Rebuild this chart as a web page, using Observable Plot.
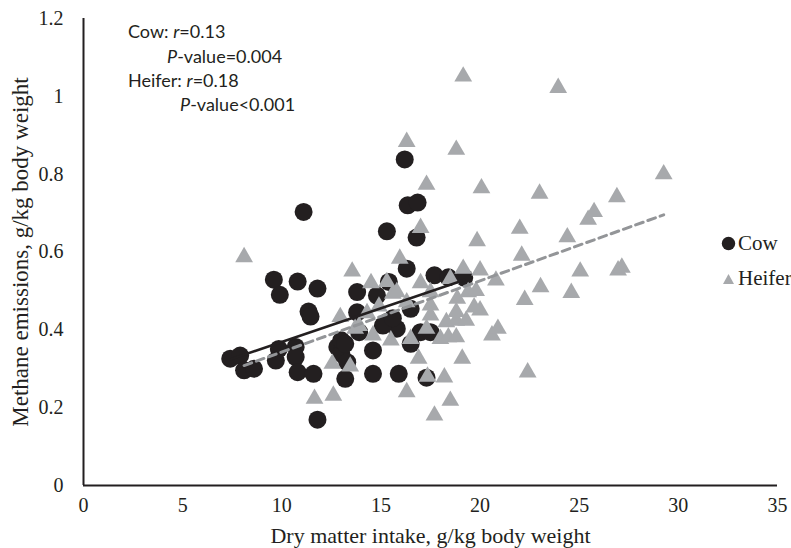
<!DOCTYPE html>
<html>
<head>
<meta charset="utf-8">
<script src="https://cdn.jsdelivr.net/npm/d3@7"></script>
<script src="https://cdn.jsdelivr.net/npm/@observablehq/plot@0.6"></script>
<style>
  html, body { margin: 0; padding: 0; background: #fff; }
  #wrap { position: relative; width: 791px; height: 548px; overflow: hidden; background: #fff; }
  .ann { position: absolute; font-family: Lato, "Open Sans", sans-serif; font-size: 18px; color: #231f20; white-space: nowrap; line-height: 20px; }
  .leg { position: absolute; font-family: "Liberation Serif", serif; font-size: 21px; color: #231f20; white-space: nowrap; line-height: 24px; display: flex; align-items: center; }
</style>
</head>
<body>
<div id="wrap">
  <div id="chart"></div>
  <div class="ann" style="left:128px; top:21px;">Cow: <i>r</i>=0.13</div>
  <div class="ann" style="left:167px; top:46px;"><i>P</i>-value=0.004</div>
  <div class="ann" style="left:128px; top:70px;">Heifer: <i>r</i>=0.18</div>
  <div class="ann" style="left:180px; top:94px;"><i>P</i>-value&lt;0.001</div>
  <div class="leg" style="left:721px; top:231px;"><svg width="15" height="15" style="margin-right:2px"><circle cx="7.5" cy="7.5" r="6.7" fill="#231f20"/></svg>Cow</div>
  <div class="leg" style="left:721px; top:266px;"><svg width="15" height="15" style="margin-right:2px"><polygon points="2,13 13,13 7.5,3" fill="#a7a9ac"/></svg>Heifer</div>
</div>
<script>
// ---- data ----
const cowX = [7.4, 7.9, 8.1, 8.6, 9.6, 9.9, 10.8, 11.8, 11.35, 11.45, 11.1, 9.85, 9.7, 10.7, 10.7, 10.8, 11.6, 11.8,
  12.8, 13.0, 13.2, 13.3, 13.0, 13.2, 13.8, 13.8, 13.9, 14.8, 15.4, 15.3, 15.8, 15.1, 15.6, 14.6, 14.6, 15.9,
  16.5, 16.5, 17.0, 17.5, 17.3, 16.3, 17.7, 18.4, 19.2, 15.3, 16.8, 16.35, 16.85, 16.2];
const cowY = [0.326, 0.334, 0.296, 0.300, 0.529, 0.490, 0.524, 0.506, 0.447, 0.434, 0.703, 0.351, 0.321, 0.356, 0.330, 0.291, 0.287, 0.169,
  0.356, 0.339, 0.274, 0.317, 0.373, 0.364, 0.497, 0.445, 0.394, 0.488, 0.523, 0.420, 0.403, 0.411, 0.430, 0.347, 0.287, 0.287,
  0.364, 0.454, 0.394, 0.394, 0.277, 0.557, 0.540, 0.535, 0.534, 0.653, 0.637, 0.720, 0.727, 0.838];

const heiferX = [8.1, 11.65, 12.6, 12.55, 13.45, 12.95, 13.55, 13.7, 14.3, 14.5, 14.6, 14.9, 15.3, 15.5, 15.6, 15.8, 15.95,
  16.3, 16.3, 16.5, 16.9, 17.0, 17.0, 16.3, 17.3, 17.3, 17.5, 17.5, 17.5, 17.7, 17.35, 18.0, 18.2, 18.4, 18.5, 18.3,
  18.8, 18.8, 18.8, 18.85, 18.8, 19.15, 19.15, 19.1, 19.3, 19.4, 19.85, 19.8, 20.0, 20.0, 20.07, 20.6, 20.8, 20.9,
  22.0, 22.1, 22.25, 22.4, 23.0, 23.05, 23.94, 24.4, 24.6, 25.05, 25.45, 25.75, 26.9, 26.96, 27.15, 29.26,
  13.9, 18.5, 19.7];
const heiferY = [0.587, 0.223, 0.231, 0.313, 0.306, 0.433, 0.550, 0.403, 0.443, 0.520, 0.386, 0.460, 0.523, 0.373, 0.493, 0.497, 0.583,
  0.471, 0.240, 0.377, 0.326, 0.520, 0.662, 0.883, 0.773, 0.403, 0.463, 0.497, 0.437, 0.180, 0.280, 0.377, 0.278, 0.381, 0.218, 0.420,
  0.424, 0.381, 0.446, 0.480, 0.863, 0.557, 1.051, 0.326, 0.424, 0.497, 0.628, 0.500, 0.553, 0.450, 0.764, 0.386, 0.527, 0.403,
  0.660, 0.591, 0.477, 0.291, 0.750, 0.510, 1.022, 0.638, 0.495, 0.550, 0.683, 0.703, 0.741, 0.553, 0.560, 0.800,
  0.410, 0.531, 0.458];

// linear trendlines (cow, heifer)
const trendSlope = [0.0173, 0.0183];
const trendIntercept = [0.196, 0.160];

const xTicks = [0, 5, 10, 15, 20, 25, 30, 35];
const yTicks = [0, 0.2, 0.4, 0.6, 0.8, 1, 1.2];

// ---- build tables ----
const cows = cowX.map((x, i) => ({x, y: cowY[i]}));
const heifers = heiferX.map((x, i) => ({x, y: heiferY[i]}));
function trend(xs, k) {
  const [a, b] = d3.extent(xs);
  return [a, b].map(x => ({x, y: trendIntercept[k] + trendSlope[k] * x}));
}
const cowLine = trend(cowX, 0);
const heiferLine = trend(heiferX, 1);

const chart = Plot.plot({
  width: 791,
  height: 548,
  marginLeft: 83,
  marginRight: 14,
  marginTop: 18,
  marginBottom: 63,
  style: {fontFamily: "'Liberation Serif', 'Times New Roman', serif", fontSize: "20px", color: "#231f20", background: "white"},
  x: {domain: [0, 35]},
  y: {domain: [0, 1.2]},
  marks: [
    Plot.axisX({ticks: xTicks, tickSize: 0, tickPadding: 12, tickFormat: d => String(d), label: null, fontSize: 20}),
    Plot.axisX({ticks: [], tickSize: 0, label: "Dry matter intake, g/kg body weight", labelAnchor: "center", labelOffset: 57, labelArrow: "none", fontSize: 22}),
    Plot.axisY({ticks: yTicks, tickSize: 0, tickPadding: 20, tickFormat: d => String(d), label: null, fontSize: 20}),
    Plot.axisY({ticks: [], tickSize: 0, label: "Methane emissions, g/kg body weight", labelAnchor: "center", labelOffset: 72, labelArrow: "none", fontSize: 23}),
    Plot.dot(cows, {x: "x", y: "y", r: 9, fill: "#231f20", stroke: "none"}),
    Plot.dot(heifers, {x: "x", y: "y", r: 6.6, symbol: "triangle", fill: "#a7a9ac", stroke: "none"}),
    Plot.line(cowLine, {x: "x", y: "y", stroke: "#231f20", strokeWidth: 2.5}),
    Plot.line(heiferLine, {x: "x", y: "y", stroke: "#939598", strokeWidth: 3, strokeDasharray: "8,5"}),
    Plot.ruleX([0], {y1: 0, y2: 1.2, stroke: "#231f20", strokeWidth: 2}),
    Plot.ruleY([0], {x1: 0, x2: 35, stroke: "#231f20", strokeWidth: 2})
  ]
});
document.getElementById("chart").appendChild(chart);
</script>
</body>
</html>
